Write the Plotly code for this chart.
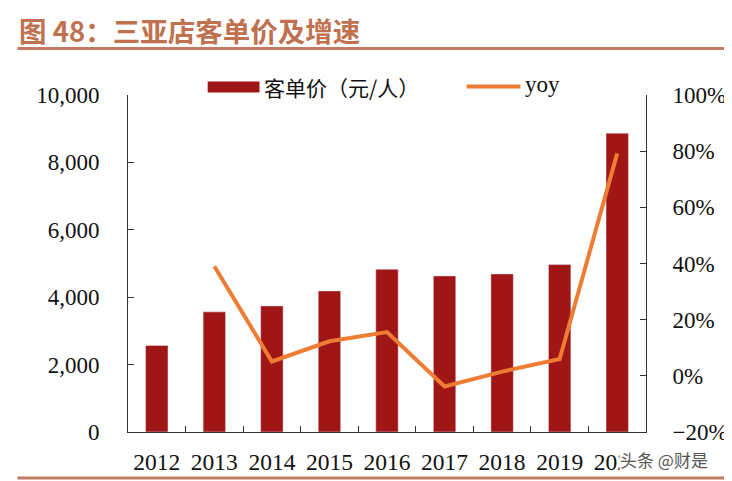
import plotly.graph_objects as go

years = ["2012", "2013", "2014", "2015", "2016", "2017", "2018", "2019", "2020"]
price = [2570, 3565, 3742, 4187, 4830, 4632, 4691, 4968, 8868]
yoy_years = ["2013", "2014", "2015", "2016", "2017", "2018", "2019", "2020"]
yoy = [0.390, 0.051, 0.123, 0.156, -0.038, 0.015, 0.060, 0.792]

BAR = "#A01515"
LINE = "#EE7D33"
TITLE = "#C0714F"
RULE = "#C27A62"
SERIF = "Liberation Serif, Times New Roman, serif"
CJK = "Noto Sans CJK SC"

# plot area (in reference pixels): x 128..648, y 94.5..432
PW, PH = 520.0, 337.5
X0, Y0 = 128.0, 94.5


def px(x):
    return (x - X0) / PW


def py(y):
    return 1 - (y - Y0) / PH


fig = go.Figure()
fig.add_trace(go.Bar(x=years, y=price, name="客单价（元/人）", marker_color=BAR,
                     width=0.39, yaxis="y"))
fig.add_trace(go.Scatter(x=yoy_years, y=yoy, name="yoy", mode="lines",
                         line=dict(color=LINE, width=4), yaxis="y2"))

# page body adds an 8px offset, so the figure is shifted up/left by 8px
fig.update_layout(
    width=732, height=481,
    margin=dict(l=120, r=92, t=86.5, b=57),
    paper_bgcolor="white", plot_bgcolor="white",
    showlegend=False,
    xaxis=dict(type="category", range=[-0.5, 8.5], showline=True, linecolor="#333",
               linewidth=1, ticks="inside", tickson="boundaries", ticklen=6,
               tickcolor="#333", tickfont=dict(family=SERIF, size=23.5, color="#111"),
               showgrid=False, ticklabelstandoff=9),
    yaxis=dict(range=[0, 10000], dtick=2000, tickformat=",", showline=True,
               linecolor="#333", linewidth=1, ticks="inside", ticklen=6, tickcolor="#333",
               tickfont=dict(family=SERIF, size=23, color="#111"), showgrid=False,
               zeroline=False, ticklabelstandoff=23),
    yaxis2=dict(range=[-0.2, 1.0], dtick=0.2, tickformat=".0%", overlaying="y",
                side="right", showline=True, linecolor="#333", linewidth=1,
                ticks="inside", ticklen=6, tickcolor="#333",
                tickfont=dict(family=SERIF, size=23, color="#111"), showgrid=False,
                zeroline=False, ticklabelstandoff=21),
)

# title and decorative rules
fig.add_annotation(text="<b>图 48：三亚店客单价及增速</b>", xref="paper", yref="paper",
                   x=px(17), y=py(29), xanchor="left", yanchor="middle",
                   showarrow=False, font=dict(family=CJK, size=27.5, color=TITLE))
fig.add_shape(type="line", xref="paper", yref="paper",
              x0=px(17), x1=px(745), y0=py(48), y1=py(48),
              line=dict(color=RULE, width=3))
fig.add_shape(type="line", xref="paper", yref="paper",
              x0=px(17), x1=px(745), y0=py(478), y1=py(478),
              line=dict(color=RULE, width=3))

# legend
fig.add_shape(type="rect", xref="paper", yref="paper",
              x0=px(208), x1=px(260), y0=py(92), y1=py(81),
              line=dict(width=0), fillcolor=BAR)
fig.add_annotation(text="客单价（元/人）", xref="paper", yref="paper",
                   x=px(263), y=py(86.5), xanchor="left", yanchor="middle",
                   showarrow=False, font=dict(family=CJK, size=21, color="#111"))
fig.add_shape(type="line", xref="paper", yref="paper",
              x0=px(468), x1=px(522), y0=py(86), y1=py(86),
              line=dict(color=LINE, width=4))
fig.add_annotation(text="yoy", xref="paper", yref="paper",
                   x=px(525), y=py(84), xanchor="left", yanchor="middle",
                   showarrow=False, font=dict(family=SERIF, size=23, color="#111"))

# watermark (sits over the end of the last year label, as in the source image)
fig.add_annotation(text="头条 @财是", xref="paper", yref="paper",
                   x=px(621), y=py(460), xanchor="left", yanchor="middle",
                   showarrow=False, bgcolor="white", borderpad=0,
                   font=dict(family=CJK, size=17, color="#555"))

fig.write_html("out.html")
